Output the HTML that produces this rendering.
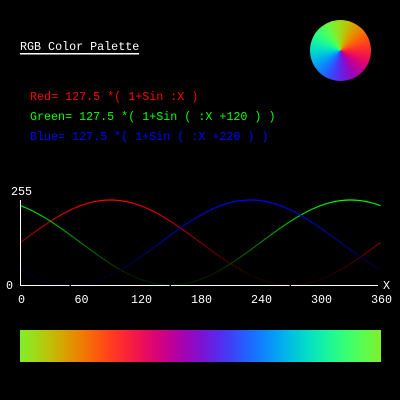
<!DOCTYPE html>
<html><head><meta charset="utf-8"><style>
html,body{margin:0;padding:0;background:#000;width:400px;height:400px;overflow:hidden}
svg{display:block}
text{font-family:"Liberation Mono",monospace;font-size:11.7px}
#wheel{position:absolute;left:310px;top:20px;width:61px;height:61px;border-radius:50%}
#bar{position:absolute;left:20px;top:330px;width:361px;height:32px}
</style></head><body>
<svg id="chart" width="400" height="400">
<text x="20" y="50" fill="#fff">RGB Color Palette</text>
<rect x="20" y="53" width="119" height="1.5" fill="#fff"/>
<text x="30" y="100" fill="#f00">Red= 127.5 *( 1+Sin :X )</text>
<text x="30" y="120" fill="#0f0">Green= 127.5 *( 1+Sin ( :X +120 ) )</text>
<text x="30" y="140" fill="#00f">Blue= 127.5 *( 1+Sin ( :X +220 ) )</text>
<g id="series"></g>
<g id="axes"></g>
</svg>
<div id="wheel"></div>
<div id="bar"></div>
<script>
const xTicks=[0,60,120,180,240,300,360];
const yTicks=[0,255];
const seriesNames=['red','green','blue'];
const seriesPhase=[0,120,220];
const amplitude=127.5;
const NS='http://www.w3.org/2000/svg';
const X0=20.5,X1=380.5,Y0=285,Y1=200;
function xs(v){return X0+(v/360)*(X1-X0);}
function ys(v){return Y0-(v/255)*(Y0-Y1);}
function val(x,ph){return amplitude*(1+Math.sin((x+ph)*Math.PI/180));}
function mk(tag,attrs,parent){const e=document.createElementNS(NS,tag);for(const k in attrs)e.setAttribute(k,attrs[k]);parent.appendChild(e);return e;}
const sg=document.getElementById('series');
seriesNames.forEach((nm,i)=>{
  const g=mk('g',{},sg);
  
  
  for(let x=0;x<360;x+=2){
    const a=val(x,seriesPhase[i]),b=val(x+2,seriesPhase[i]);
    const c=Math.round(Math.max(30,(a+b)/2));
    const col=i==0?`rgb(${c},0,0)`:i==1?`rgb(0,${c},0)`:`rgb(0,0,${c})`;
    const l=mk('line',{x1:xs(x),y1:ys(a),x2:xs(x+2),y2:ys(b),stroke:col,'stroke-width':1.2},g);
    
    
  }
});
const ag=document.getElementById('axes');
const ya=mk('line',{x1:20.5,y1:200,x2:20.5,y2:286,stroke:'#fff','stroke-width':1},ag);


const xa=mk('path',{d:'M20 285.5H69.5M71 285.5H169.5M171 285.5H289.5M291 285.5H378',stroke:'#fff','stroke-width':1},ag);


xTicks.forEach(t=>{
  const tx=mk('text',{x:xs(t)+1,y:303,fill:'#fff','text-anchor':'middle'},ag);
  tx.textContent=t;
  
  
});
yTicks.forEach(t=>{
  const tx=mk('text',{x:t?11:6,y:t?195:289,fill:'#fff'},ag);
  tx.textContent=t;
  
  
});
const xl=mk('text',{x:383,y:289,fill:'#fff'},ag);
xl.textContent='X';


function colAt(x){return `rgb(${seriesPhase.map(p=>Math.round(val(x,p))).join(',')})`;}
const lin=[],con=[];
for(let x=0;x<=360;x+=15){lin.push(colAt(x)+' '+(x/3.6)+'%');con.push(colAt(x)+' '+x+'deg');}
document.getElementById('bar').style.background='linear-gradient(to right,'+lin.join(',')+')';
document.getElementById('wheel').style.background='conic-gradient(from -15deg,'+con.join(',')+')';
</script>
</body></html>
